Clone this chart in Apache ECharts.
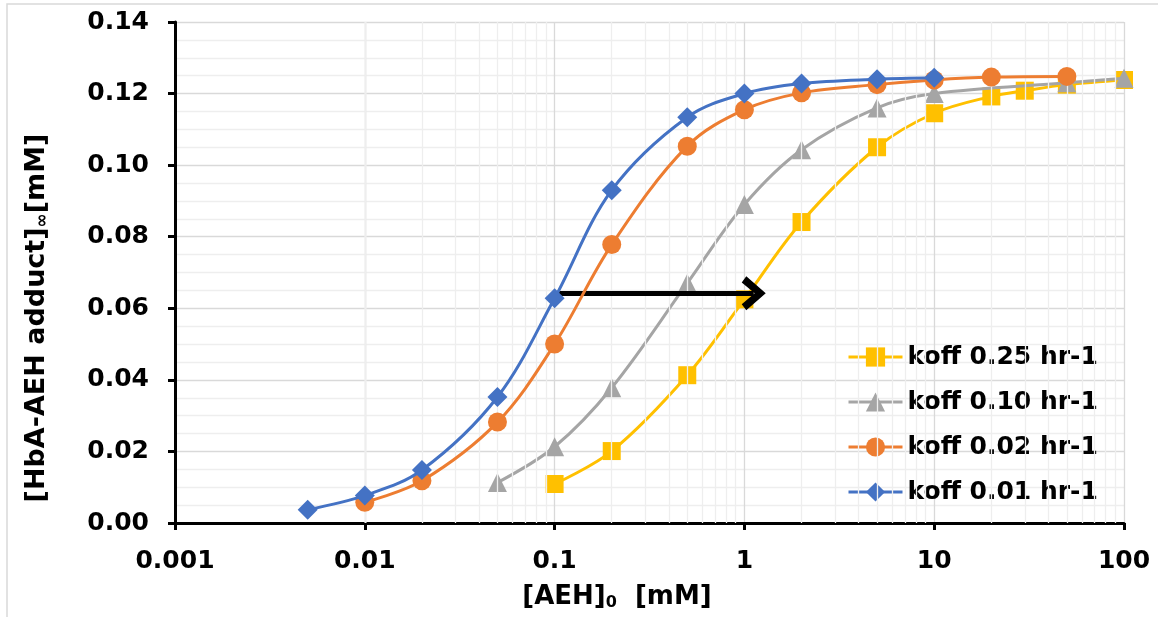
<!DOCTYPE html>
<html>
<head>
<meta charset="utf-8">
<script src="https://cdn.jsdelivr.net/npm/echarts@6/dist/echarts.min.js"></script>
<style>
html,body{margin:0;padding:0;background:#fff;}
#c{width:1158px;height:617px;}
</style>
</head>
<body>
<div id="c"></div>
<script>
// ---- data ----
const seriesNames = ['koff 0.25 hr-1', 'koff 0.10 hr-1', 'koff 0.02 hr-1', 'koff 0.01 hr-1'];
const x025 = [0.1, 0.2, 0.5, 1, 2, 5, 10, 20, 30, 50, 100];
const y025 = [0.0109, 0.0201, 0.0413, 0.0625, 0.0841, 0.1050, 0.1145, 0.1192, 0.1208, 0.1225, 0.1238];
const x010 = [0.05, 0.1, 0.2, 0.5, 1, 2, 5, 10, 50, 100];
const y010 = [0.0113, 0.0213, 0.0378, 0.0670, 0.0890, 0.1043, 0.1160, 0.1200, 0.1230, 0.1243];
const x002 = [0.01, 0.02, 0.05, 0.1, 0.2, 0.5, 1, 2, 5, 10, 20, 50];
const y002 = [0.0058, 0.0118, 0.0282, 0.0500, 0.0778, 0.1053, 0.1155, 0.1202, 0.1225, 0.1238, 0.1246, 0.1248];
const x001 = [0.005, 0.01, 0.02, 0.05, 0.1, 0.2, 0.5, 1, 2, 5, 10];
const y001 = [0.0037, 0.0077, 0.0148, 0.0352, 0.0628, 0.0930, 0.1134, 0.1200, 0.1228, 0.1240, 0.1244];
const xTickLabels = ['0.001', '0.01', '0.1', '1', '10', '100'];
const arrowFrom = [0.1, 0.0642];
const arrowTo = [1.12, 0.0642];

const zip = (xs, ys) => xs.map((v, i) => [v, ys[i]]);
const colors = ['#FFC000', '#A5A5A5', '#ED7D31', '#4472C4'];
const symbols = ['rect', 'triangle', 'circle', 'diamond'];
const sizes = [18, 19, 19, 20];
const datasets = [zip(x025, y025), zip(x010, y010), zip(x002, y002), zip(x001, y001)];

// minor log gridlines (2..9 within each decade)
const minorX = [];
for (let e = -3; e <= 1; e++) {
  for (let k = 2; k <= 9; k++) minorX.push({ xAxis: k * Math.pow(10, e) });
}

const FONT = 'DejaVu Sans';
const chart = echarts.init(document.getElementById('c'), null, { renderer: 'canvas' });

const series = datasets.map((d, i) => ({
  name: seriesNames[i],
  type: 'line',
  data: d,
  smooth: 0.35,
  symbol: symbols[i],
  symbolSize: sizes[i],
  showSymbol: true,
  itemStyle: { color: colors[i], borderWidth: 0, opacity: 1 },
  lineStyle: { color: colors[i], width: 3, type: 'solid' },
  z: 3 + i,
  animation: false
}));

series.unshift({
  name: 'minorgrid',
  type: 'line',
  data: [],
  silent: true,
  z: 1,
  markLine: {
    silent: true,
    symbol: ['none', 'none'],
    label: { show: false },
    lineStyle: { color: '#eeeeee', width: 1.3, type: 'solid' },
    emphasis: { disabled: true },
    data: minorX,
    animation: false
  }
});

series.push({
  name: 'arrow',
  type: 'line',
  data: [],
  silent: true,
  z: 10,
  markLine: {
    silent: true,
    symbol: ['none', 'path://M50,0 L100,60 L82,74 L50,34 L18,74 L0,60 Z'],
    symbolSize: [34, 24],
    label: { show: false },
    lineStyle: { color: '#000', width: 5, type: 'solid' },
    emphasis: { disabled: true },
    data: [[{ coord: arrowFrom }, { coord: arrowTo }]],
    animation: false
  }
});

chart.setOption({
  animation: false,
  backgroundColor: '#fff',
  grid: { left: 175, right: 34, top: 22, bottom: 94, containLabel: false },
  xAxis: {
    type: 'log',
    logBase: 10,
    min: 0.001,
    max: 100,
    axisLine: { show: true, onZero: false, lineStyle: { color: '#000', width: 3 } },
    axisTick: { show: true, inside: false, length: 7, lineStyle: { color: '#000', width: 3 } },
    axisLabel: {
      fontFamily: FONT, fontWeight: 'bold', fontSize: 25, color: '#000', margin: 26,
      formatter: v => xTickLabels[Math.round(Math.log10(v)) + 3]
    },
    splitLine: { show: true, lineStyle: { color: '#d9d9d9', width: 1.3 } },
    minorTick: { show: false },
    minorSplitLine: { show: false }
  },
  yAxis: {
    type: 'value',
    min: 0,
    max: 0.14,
    interval: 0.02,
    axisLine: { show: true, lineStyle: { color: '#000', width: 3 } },
    axisTick: { show: true, inside: false, length: 7, lineStyle: { color: '#000', width: 3 } },
    axisLabel: {
      fontFamily: FONT, fontWeight: 'bold', fontSize: 25, color: '#000', margin: 26,
      formatter: v => v.toFixed(2)
    },
    splitLine: { show: true, lineStyle: { color: '#d9d9d9', width: 1.3 } },
    minorTick: { show: false, splitNumber: 4 },
    minorSplitLine: { show: true, lineStyle: { color: '#eeeeee', width: 1.3 } }
  },
  legend: {
    data: seriesNames,
    orient: 'vertical',
    left: 842,
    top: 337,
    itemWidth: 54,
    itemHeight: 24,
    itemGap: 15,
    lineStyle: { width: 3, type: 'solid' },
    textStyle: { fontFamily: FONT, fontWeight: 'bold', fontSize: 25, color: '#000', lineHeight: 30 },
    selectedMode: false
  },
  graphic: [
    {
      type: 'rect',
      shape: { x: 7, y: 4, width: 1200, height: 700 },
      style: { fill: 'none', stroke: '#d9d9d9', lineWidth: 1.5 },
      silent: true,
      z: -10
    },
    {
      type: 'text',
      x: 37, y: 318,
      rotation: Math.PI / 2,
      style: {
        text: '[HbA-AEH adduct]{sub|∞}[mM]',
        fontFamily: FONT, fontWeight: 'bold', fontSize: 27, fill: '#000',
        align: 'center', verticalAlign: 'middle',
        rich: { sub: { fontFamily: FONT, fontWeight: 'bold', fontSize: 17, fill: '#000', verticalAlign: 'bottom', padding: [12, 0, 0, 0] } }
      }
    },
    {
      type: 'text',
      x: 617, y: 597,
      style: {
        text: '[AEH]{sub|0}  [mM]',
        fontFamily: FONT, fontWeight: 'bold', fontSize: 26, fill: '#000',
        align: 'center', verticalAlign: 'middle',
        rich: { sub: { fontFamily: FONT, fontWeight: 'bold', fontSize: 16, fill: '#000', verticalAlign: 'bottom', padding: [12, 0, 0, 0] } }
      }
    }
  ],
  series: series
});
</script>
</body>
</html>
